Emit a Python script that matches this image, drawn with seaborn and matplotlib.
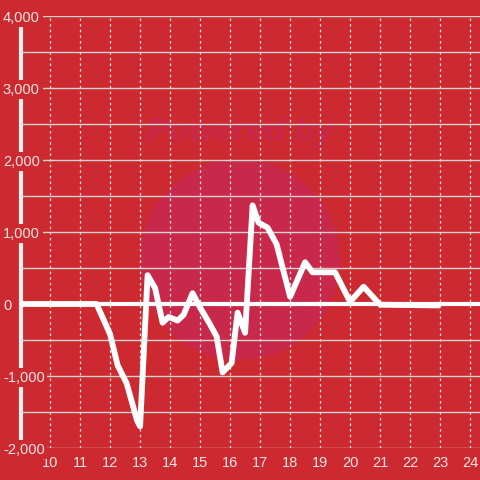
import matplotlib
matplotlib.use("Agg")
import matplotlib.pyplot as plt
import matplotlib.patches as mpatches
import seaborn as sns
import pandas as pd

# ---- data ----
x_values = [9.0, 11.55, 12.0, 12.25, 12.55, 12.9, 13.0, 13.25, 13.5, 13.75, 13.95,
            14.25, 14.45, 14.75, 15.0, 15.3, 15.55, 15.75, 16.05, 16.25, 16.5, 16.75,
            16.95, 17.25, 17.55, 18.0, 18.5, 18.75, 19.5, 20.0, 20.45, 21.0, 23.0]
y_values = [0, 0, -420, -850, -1100, -1620, -1700, 400, 220, -260, -180,
            -230, -150, 150, -50, -260, -450, -950, -820, -120, -400, 1370,
            1130, 1060, 830, 100, 580, 440, 440, 30, 240, -10, -20]
x_ticks = list(range(10, 25))
y_ticks = [-2000, -1000, 0, 1000, 2000, 3000, 4000]
y_tick_labels = ["-2,000", "-1,000", "0", "1,000", "2,000", "3,000", "4,000"]

BG = "#CC2A30"
TXT = "#F3E4E4"
GRID = "#D9D2D2"

sns.set_theme(style="white")
plt.rcParams["font.family"] = ["Liberation Sans", "DejaVu Sans"]

fig = plt.figure(figsize=(4.8, 4.8), dpi=100, facecolor=BG)
ax = fig.add_axes([21 / 480, 1 - 448 / 480, 1 - 21 / 480, 432 / 480])
ax.set_facecolor(BG)

df = pd.DataFrame({"x": x_values, "y": y_values})

# watermark
circ = mpatches.Circle((240 / 480, 1 - 260 / 480), 100 / 480, transform=fig.transFigure,
                       facecolor="#C8284A", edgecolor="none", zorder=0.2)
ax.add_patch(circ)
ax.text(240 / 480, 1 - 133 / 480, "Powered by", transform=fig.transFigure,
        ha="center", va="center", fontsize=24, fontweight="bold", style="italic",
        color="#C8284A", zorder=0.3)

ax.set_axisbelow(True)
ax.axhline(0, color="white", lw=3, zorder=1)
sns.lineplot(data=df, x="x", y="y", ax=ax, color="white", lw=4.2, zorder=3,
             solid_joinstyle="round", solid_capstyle="butt")

ax.set_xlim(9.03, 24.33)
ax.set_ylim(-2000, 4000)

ax.set_xticks(x_ticks)
ax.set_xticks([], minor=True)
ax.set_yticks(list(range(-2000, 4001, 500)))
ax.set_yticklabels([y_tick_labels[y_ticks.index(v)] if v in y_ticks else "" for v in range(-2000, 4001, 500)])
ax.set_xlabel("")
ax.set_ylabel("")

ax.grid(axis="y", color=GRID, lw=1.0, ls="-")
ax.grid(axis="x", color="#F0E6E6", lw=0.9, ls=(0, (2, 2.5)))

for s in ax.spines.values():
    s.set_visible(False)
ax.axvline(9.03, ymin=8 / 432, ymax=1 - 8 / 432, color="#F4EFEF", lw=3, zorder=0.4,
           clip_on=False)

ax.tick_params(axis="x", length=0, pad=6, labelsize=10.5, labelcolor=TXT)
ax.tick_params(axis="y", length=0, pad=13, labelsize=10.5, labelcolor=TXT)
for lab in ax.get_yticklabels():
    lab.set_horizontalalignment("left")
    lab.set_bbox(dict(facecolor=BG, edgecolor="none", pad=2.0))

fig.savefig("out.png", dpi=100, facecolor=BG)
